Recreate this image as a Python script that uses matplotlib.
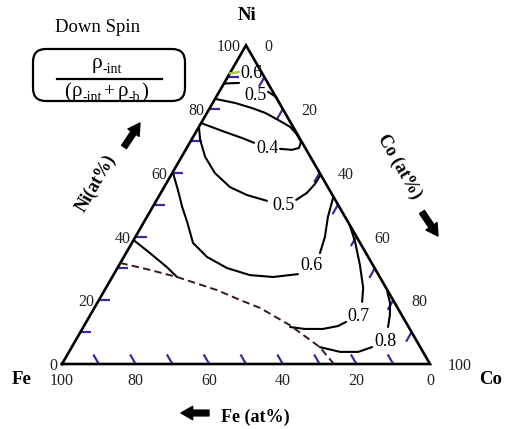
import numpy as np
import matplotlib
matplotlib.use('Agg')
import matplotlib.pyplot as plt
from matplotlib.patches import FancyBboxPatch

plt.rcParams['font.family'] = ['Liberation Serif', 'DejaVu Serif']

# ---------------- data (compositions in at%: Co, Ni) ----------------
left_ticks_ni = [10, 20, 30, 40, 50, 60, 70, 80, 90]
right_ticks_co = [10, 20, 40, 50, 60, 70, 80, 90]
bottom_ticks_fe = [90, 80, 70, 60, 50, 40, 30, 20, 10]
axis_labels = [0, 20, 40, 60, 80, 100]

iso06_top_co = [0.0, 4.0]
iso06_top_ni = [88.0, 88.2]
green_co = [0.0, 2.2]
green_ni = [91.2, 91.6]

iso05_top_co = [13.3, 16.3, 18.4]
iso05_top_ni = [85.4, 83.8, 81.6]

iso05_loop_co = [0.0, 6.1, 11.5, 15.8, 20.4, 24.8, 27.6, 30.1, 30.5, 28.9, 25.5]
iso05_loop_ni = [83.2, 81.9, 80.3, 78.8, 76.6, 74.4, 72.2, 69.7, 67.8, 67.2, 67.5]

iso04_co = [0.0, 7.9, 13.5, 17.5]
iso04_ni = [75.6, 72.8, 70.9, 69.4]

iso05_left_co = [0.0, 2.4, 6.4, 11.6, 17.9, 23.8, 30.1]
iso05_left_ni = [74.4, 70.3, 65.0, 59.9, 55.5, 53.0, 51.2]
iso05_right_co = [37.9, 39.7, 40.5, 40.6]
iso05_right_ni = [51.5, 53.7, 56.5, 59.0]

iso06_left_co = [0.0, 4.2, 8.0, 11.7, 16.6, 22.6, 29.8, 37.1, 43.7, 50.0]
iso06_left_ni = [60.2, 54.6, 49.3, 44.6, 38.0, 33.6, 30.1, 27.9, 27.3, 28.2]
iso06_right_co = [52.7, 51.5, 49.2, 47.6]
iso06_right_ni = [34.8, 39.9, 46.1, 52.1]

iso07_left_co = [56.2, 60.5, 65.4, 69.0, 70.6]
iso07_left_ni = [11.6, 11.0, 11.0, 11.9, 13.2]
iso07_right_co = [71.8, 69.9, 65.4, 60.5, 56.4]
iso07_right_ni = [19.5, 23.9, 31.1, 38.3, 43.6]

iso08_left_co = [67.4, 73.7, 78.6, 81.6]
iso08_left_ni = [5.3, 3.8, 3.8, 5.3]
iso08_right_co = [82.8, 81.4, 79.6, 76.7]
iso08_right_ni = [11.6, 15.4, 19.1, 23.2]

lower_co = [0.0, 6.5, 13.3, 17.6]
lower_ni = [38.9, 34.8, 30.4, 27.3]

boundary_co = [0.0, 9.2, 17.6, 30.5, 38.3, 45.0, 55.8, 67.4, 73.9]
boundary_ni = [31.7, 29.5, 27.3, 23.2, 20.1, 17.6, 12.2, 5.3, 0.0]

label_text = ['0.6', '0.5', '0.4', '0.5', '0.6', '0.7', '0.8']
label_co = [6.1, 10.5, 22.2, 35.5, 52.3, 73.1, 84.2]
label_ni = [91.0, 84.4, 67.5, 49.6, 30.8, 14.8, 7.2]

# ---------------- helpers ----------------
S3 = np.sqrt(3) / 2


def tern(co, ni):
    co = np.asarray(co, dtype=float) / 100.0
    ni = np.asarray(ni, dtype=float) / 100.0
    return co + ni / 2.0, ni * S3


def P(px, py):  # figure pixel (from top-left) -> data coords
    return (px - 62) / 368.0, (364 - py) / 368.0


fig = plt.figure(figsize=(5.07, 4.29), dpi=100)
ax = fig.add_axes([0, 0, 1, 1])
ax.set_xlim(-62 / 368.0, 445 / 368.0)
ax.set_ylim(-65 / 368.0, 364 / 368.0)
ax.axis('off')

BLUE = '#3a2ca0'
# ticks
L = 11 / 368.0
for v in left_ticks_ni:
    x, y = tern(0, v)
    ax.plot([x, x + L], [y, y], color=BLUE, lw=1.6, solid_capstyle='butt')
for v in right_ticks_co:
    x, y = tern(v, 100 - v)
    ax.plot([x, x - L * 0.5], [y, y - L * S3], color=BLUE, lw=1.6, solid_capstyle='butt')
for v in bottom_ticks_fe:
    x, y = tern(100 - v, 0)
    ax.plot([x, x - L * 0.5], [y, y + L * S3], color=BLUE, lw=1.6, solid_capstyle='butt')

# triangle
tx, ty = tern([0, 100, 0, 0], [0, 0, 100, 0])
ax.plot(tx, ty, color='black', lw=1.9, solid_joinstyle='miter')

# contours
kw = dict(color='black', lw=1.5, solid_capstyle='round')
for co, ni in [(iso06_top_co, iso06_top_ni), (iso05_top_co, iso05_top_ni),
               (iso05_loop_co, iso05_loop_ni), (iso04_co, iso04_ni),
               (iso05_left_co, iso05_left_ni), (iso05_right_co, iso05_right_ni),
               (iso06_left_co, iso06_left_ni), (iso06_right_co, iso06_right_ni),
               (iso07_left_co, iso07_left_ni), (iso07_right_co, iso07_right_ni),
               (iso08_left_co, iso08_left_ni), (iso08_right_co, iso08_right_ni),
               (lower_co, lower_ni)]:
    ax.plot(*tern(co, ni), **kw)
ax.plot(*tern(green_co, green_ni), color='#9acd32', lw=1.6)
ax.plot(*tern(boundary_co, boundary_ni), color='#3a1818', lw=1.4, ls=(0, (3.8, 2.2)))

for t, co, ni in zip(label_text, label_co, label_ni):
    ax.text(*tern(co, ni), t, fontsize=13, ha='center', va='center')

# axis numbers
for v in axis_labels:
    ax.annotate(str(v), tern(0, v), xytext=(-5, -2), textcoords='offset pixels',
                ha='right', va='center', fontsize=11.5, color='#222222')
    ax.annotate(str(v), tern(v, 100 - v), xytext=(18, -2), textcoords='offset pixels',
                ha='left', va='center', fontsize=11.5, color='#222222')
    ax.annotate(str(v), tern(100 - v, 0), xytext=(0, -17), textcoords='offset pixels',
                ha='center', va='center', fontsize=11.5, color='#222222')

# corner names
ax.text(*P(22, 380), 'Fe', fontsize=13.5, fontweight='bold', ha='center', va='center')
ax.text(*P(491, 380), 'Co', fontsize=13.5, fontweight='bold', ha='center', va='center')
ax.text(*P(247, 15), 'Ni', fontsize=13.5, fontweight='bold', ha='center', va='center')

# axis titles
ax.text(*P(96, 183), 'Ni(at%)', fontsize=13, fontweight='bold', rotation=60,
        ha='center', va='center', rotation_mode='anchor')
ax.text(*P(399, 167), 'Co (at%)', fontsize=13, fontweight='bold', rotation=-60,
        ha='center', va='center', rotation_mode='anchor')
ax.text(*P(255, 417), 'Fe (at%)', fontsize=13, fontweight='bold',
        ha='center', va='center')

arrow = dict(arrowstyle='simple,head_length=0.7,head_width=0.8,tail_width=0.35',
             color='black', mutation_scale=12, shrinkA=0, shrinkB=0)
ax.annotate('', xy=P(140, 123), xytext=P(124, 147), arrowprops=arrow)
ax.annotate('', xy=P(438, 236), xytext=P(422, 212), arrowprops=arrow)
ax.annotate('', xy=P(181, 413), xytext=P(209, 413), arrowprops=arrow)

# formula box
x0, y0 = P(33, 101)
x1, y1 = P(185, 49)
box = FancyBboxPatch((x0, y0), x1 - x0, y1 - y0,
                     boxstyle='round,pad=0,rounding_size=0.035',
                     fc='white', ec='black', lw=1.6)
ax.add_patch(box)
ax.text(*P(98, 27), 'Down Spin', fontsize=13.5, ha='center', va='center')

renderer = fig.canvas.get_renderer()


def sequence(pieces, cx, base_py):
    """Lay out text pieces left to right, centred at cx (pixels)."""
    items = []
    for s, fs, dy, gap in pieces:
        t = ax.text(0, 0, s, fontsize=fs, ha='left', va='baseline')
        w = t.get_window_extent(renderer).width
        items.append((t, w, dy, gap))
    total = sum(w + g for _, w, _, g in items)
    x = cx - total / 2.0
    for t, w, dy, gap in items:
        t.set_position(P(x, base_py + dy))
        x += w + gap


sequence([('ρ', 15.5, 0, 0.5), ('-int', 10, 5, 0)], 107, 68)
ax.plot(*zip(P(57, 79), P(162, 79)), color='black', lw=1.6)
sequence([('(', 15, 1, 0.5), ('ρ', 15, 0, 0.5), ('-int', 10, 5, 1.0),
          ('+', 14, 0, 4.0), ('ρ', 15, 0, 0.5), ('-b', 10, 5, 0.5),
          (')', 15, 1, 0)], 106, 96)

fig.savefig('out.png', dpi=100)
